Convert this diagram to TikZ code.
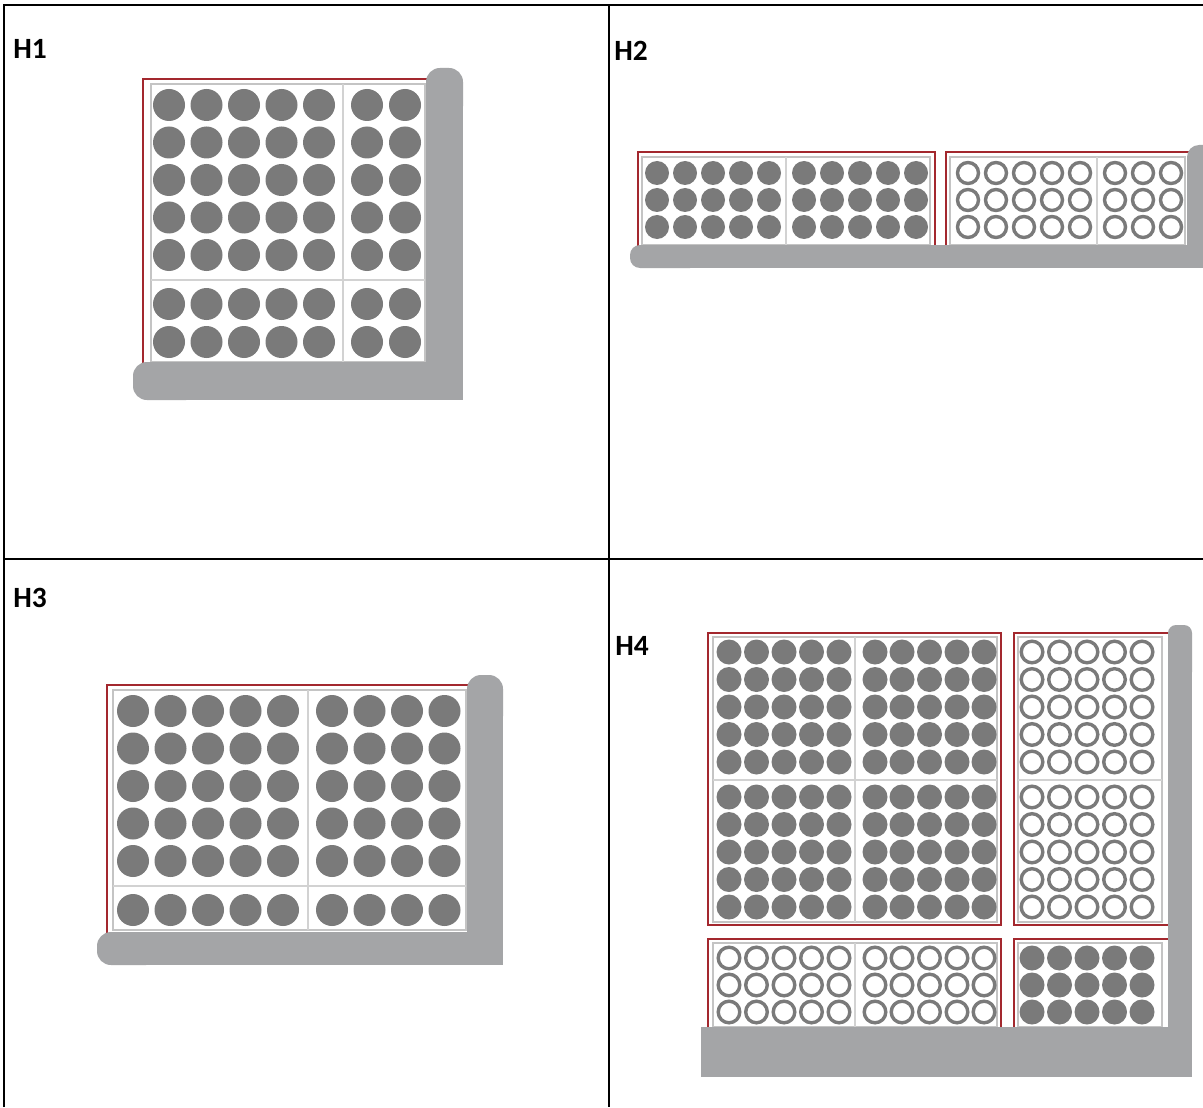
\documentclass[tikz,border=0pt]{standalone}
\usepackage{fontspec}
\setmainfont{Carlito}
\definecolor{dotgray}{HTML}{7A7A7A}
\definecolor{wallgray}{HTML}{A4A5A7}
\definecolor{framered}{HTML}{A3282E}
\definecolor{innergray}{HTML}{C4C4C4}
\definecolor{divgray}{HTML}{D2D2D2}
\newcommand\fdots[3]{\foreach \xx in {#1}{\foreach \yy in {#2}{\fill[dotgray] (\xx,\yy) circle[radius=#3];}}}
\newcommand\odots[3]{\foreach \xx in {#1}{\foreach \yy in {#2}{\draw[dotgray,line width=1.7pt,fill=white] (\xx,\yy) circle[radius=#3];}}}
\newcommand\tray[8]{\draw[redframe] (#1,#2) rectangle (#3,#4); \draw[innerframe] (#5,#6) rectangle (#7,#8);}
\begin{document}
\begin{tikzpicture}[x=0.5pt,y=-0.5pt,
  redframe/.style={draw=framered,line width=0.9pt},
  innerframe/.style={draw=innergray,line width=0.7pt},
  divline/.style={draw=divgray,line width=0.7pt},
  tableline/.style={draw=black,line width=1pt},
  lbl/.style={anchor=base west,inner sep=0pt,font=\fontsize{14.7}{17}\selectfont\bfseries}]
\useasboundingbox (0,0) rectangle (1203,1107);
\fill[white] (0,0) rectangle (1203,1107);
% table grid
\draw[tableline] (4,1107) -- (4,5) -- (1203,5);
\draw[tableline] (609,5) -- (609,1107);
\draw[tableline] (4,559) -- (1203,559);
% labels
\node[lbl] (h1) at (13,59) {H1};
\node[lbl] (h2) at (614,61) {H2};
\node[lbl] (h3) at (13,607) {H3};
\node[lbl] (h4) at (615,655) {H4};
% ---------------- H1
\tray{143}{79}{455}{395}{151}{84}{425}{362}
\draw[divline] (343,84) -- (343,362);
\draw[divline] (151,280) -- (425,280);
\fdots{169,206.5,244,281.5,319,367,405}{105,142.5,180,217.5,255,304,342}{16}
\fill[wallgray,rounded corners=7pt] (426,68) rectangle (463,120);
\fill[wallgray] (426,90) rectangle (463,400);
\fill[wallgray,rounded corners=7pt] (133,362) rectangle (200,400);
\fill[wallgray] (160,362) rectangle (463,400);
% ---------------- H2
\tray{638}{152}{935}{262}{642}{157}{930}{245}
\draw[divline] (786,157) -- (786,245);
\fdots{657,685,713,741,769,804,832,860,888,916}{173,200,227}{12}
\tray{946}{152}{1200}{262}{950}{157}{1185}{245}
\draw[divline] (1097,157) -- (1097,245);
\odots{968,996,1024,1052,1080,1115,1143,1171}{173,200,227}{10.5}
\fill[wallgray,rounded corners=6pt] (1187,145) rectangle (1220,190);
\fill[wallgray] (1187,165) rectangle (1203,268);
\fill[wallgray,rounded corners=5pt] (630,245) rectangle (700,268);
\fill[wallgray] (650,245) rectangle (1203,268);
% ---------------- H3
\tray{107}{685}{495}{958}{113}{690}{466}{930}
\draw[divline] (308,690) -- (308,930);
\draw[divline] (113,886) -- (466,886);
\fdots{133,170.5,208,245.5,283,332,369.5,407,444.5}{711,748.5,786,823.5,861,910}{16}
\fill[wallgray,rounded corners=7pt] (467,675) rectangle (503,730);
\fill[wallgray] (467,700) rectangle (503,965);
\fill[wallgray,rounded corners=7pt] (97,932) rectangle (160,965);
\fill[wallgray] (130,932) rectangle (503,965);
% ---------------- H4
\tray{708}{633}{1001}{925}{713}{637}{997}{922}
\draw[divline] (855,637) -- (855,922);
\draw[divline] (713,780) -- (997,780);
\fdots{729,756.5,784,811.5,839,875,902,929.5,957,984}{652,679.5,707,734.5,762,797,824.5,852,879.5,907}{12.5}
\tray{1014}{633}{1180}{925}{1018}{637}{1162}{922}
\draw[divline] (1018,780) -- (1162,780);
\odots{1032,1059.5,1087,1114.5,1142}{652,679.5,707,734.5,762,797,824.5,852,879.5,907}{10.8}
\tray{708}{939}{1001}{1040}{713}{943}{997}{1027}
\draw[divline] (855,943) -- (855,1027);
\odots{729,756.5,784,811.5,839,875,902,929.5,957,984}{958,985,1012}{10.8}
\tray{1014}{939}{1180}{1040}{1018}{943}{1162}{1027}
\fdots{1032,1059.5,1087,1114.5,1142}{958,985,1012}{12.5}
\fill[wallgray,rounded corners=4pt] (1168,625) rectangle (1192,680);
\fill[wallgray] (1168,650) rectangle (1192,1077);
\fill[wallgray] (701,1027) rectangle (1192,1077);
\end{tikzpicture}
\end{document}
